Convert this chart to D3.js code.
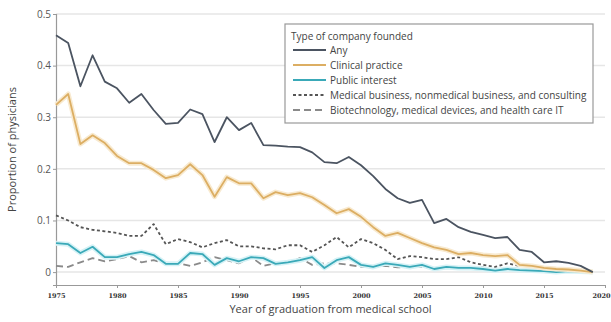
<!DOCTYPE html>
<html>
<head>
<meta charset="utf-8">
<script src="https://cdn.jsdelivr.net/npm/d3@7"></script>
<style>
  body { margin: 0; background: #fff; }
  svg { display: block; }
</style>
</head>
<body>
<div id="chart"></div>
<script>
// data
const years = d3.range(1975, 2020);
const anyFounded = [0.459, 0.444, 0.360, 0.420, 0.369, 0.356, 0.328, 0.345, 0.314, 0.287,
  0.289, 0.315, 0.306, 0.252, 0.300, 0.275, 0.289, 0.246, 0.245, 0.243,
  0.242, 0.232, 0.213, 0.211, 0.223, 0.207, 0.186, 0.161, 0.143, 0.134,
  0.140, 0.095, 0.103, 0.087, 0.078, 0.072, 0.066, 0.068, 0.043, 0.039,
  0.019, 0.021, 0.018, 0.012, 0.000];
const clinical = [0.324, 0.345, 0.248, 0.265, 0.250, 0.225, 0.211, 0.211, 0.198, 0.182,
  0.188, 0.209, 0.188, 0.146, 0.184, 0.172, 0.172, 0.143, 0.155, 0.149,
  0.153, 0.145, 0.130, 0.114, 0.122, 0.107, 0.087, 0.070, 0.076, 0.066,
  0.056, 0.048, 0.043, 0.035, 0.037, 0.033, 0.031, 0.033, 0.014, 0.012,
  0.008, 0.006, 0.005, 0.003, 0.000];
const publicInterest = [0.056, 0.054, 0.037, 0.049, 0.029, 0.029, 0.035, 0.039, 0.033, 0.016,
  0.016, 0.037, 0.035, 0.014, 0.027, 0.021, 0.029, 0.027, 0.016, 0.019,
  0.023, 0.029, 0.008, 0.023, 0.029, 0.014, 0.010, 0.017, 0.014, 0.010,
  0.014, 0.006, 0.010, 0.008, 0.008, 0.006, 0.003, 0.006, 0.004, 0.003,
  0.002, 0.000, 0.002, 0.001, 0.000];
const medBusiness = [0.110, 0.100, 0.087, 0.082, 0.079, 0.076, 0.070, 0.070, 0.093, 0.054,
  0.064, 0.058, 0.048, 0.056, 0.062, 0.050, 0.050, 0.046, 0.044, 0.052,
  0.052, 0.039, 0.052, 0.068, 0.048, 0.064, 0.056, 0.043, 0.025, 0.031,
  0.029, 0.025, 0.025, 0.029, 0.019, 0.014, 0.010, 0.017, 0.012, 0.012,
  0.006, 0.008, 0.004, 0.002, 0.000];
const biotech = [0.012, 0.010, 0.019, 0.027, 0.021, 0.025, 0.031, 0.019, 0.023, 0.017,
  0.017, 0.012, 0.019, 0.029, 0.023, 0.017, 0.029, 0.012, 0.017, 0.019,
  0.027, 0.014, 0.017, 0.017, 0.014, 0.010, 0.010, 0.012, 0.009, 0.010,
  0.010, 0.006, 0.008, 0.008, 0.009, 0.009, 0.002, 0.008, 0.006, 0.005,
  0.004, 0.004, 0.003, 0.002, 0.000];
const seriesNames = ['Any', 'Clinical practice', 'Public interest',
  'Medical business, nonmedical business, and consulting',
  'Biotechnology, medical devices, and health care IT'];
const yTicks = [0, 0.1, 0.2, 0.3, 0.4, 0.5];
const xTicks = [1975, 1980, 1985, 1990, 1995, 2000, 2005, 2010, 2015, 2020];

const width = 611;
const height = 322;
const margin = {top: 14, right: 6, bottom: 37, left: 56};
const fontFamily = `'Open Sans', 'Noto Sans', sans-serif`;
const textColor = '#444';

const styles = [
  {color: '#4b5461', dash: null, glow: null},
  {color: '#dcae63', dash: null, glow: '#f8ead0'},
  {color: '#3aa9b8', dash: null, glow: '#d6f2f6'},
  {color: '#555', dash: '3,2.5', glow: null},
  {color: '#8a8a8a', dash: '7,4', glow: null}
];

const xScale = d3.scaleLinear().domain([1975, 2020]).range([margin.left, width - margin.right]);
const yScale = d3.scaleLinear().domain([-0.025, 0.5]).range([height - margin.bottom, margin.top]);

const svg = d3.select('#chart').append('svg')
  .attr('width', width)
  .attr('height', height);

// grid lines
svg.append('g')
  .selectAll('line')
  .data(yTicks)
  .join('line')
  .attr('x1', margin.left)
  .attr('x2', width - margin.right)
  .attr('y1', d => yScale(d))
  .attr('y2', d => yScale(d))
  .attr('stroke', '#e6e6e6')
  .attr('stroke-width', 1.5);

// y axis
const yAxis = svg.append('g')
  .attr('transform', `translate(${margin.left},0)`)
  .call(d3.axisLeft(yScale).tickValues(yTicks).tickSize(3).tickFormat(d => d === 0 ? '0' : d3.format('.1f')(d)));
yAxis.select('.domain').attr('stroke', '#999').attr('stroke-width', 1.2);
yAxis.selectAll('.tick line').attr('stroke', '#999');
yAxis.selectAll('.tick text')
  .style('font', `10px ${fontFamily}`)
  .attr('fill', '#555')
  .attr('x', -5);

// x axis
const xAxis = svg.append('g')
  .attr('transform', `translate(0,${height - margin.bottom})`)
  .call(d3.axisBottom(xScale).tickValues(xTicks).tickSize(3).tickFormat(d3.format('d')).tickSizeOuter(0));
xAxis.select('.domain').attr('stroke', '#999').attr('stroke-width', 1.2);
xAxis.selectAll('.tick line').attr('stroke', '#999');
xAxis.selectAll('.tick text')
  .style('font', `bold 6.5px 'DejaVu Serif', serif`)
  .attr('fill', '#333')
  .attr('y', 8)
  .attr('dx', d => d === 2020 ? -4 : 0);

// axis titles
svg.append('text')
  .attr('x', (margin.left + width - margin.right) / 2)
  .attr('y', 313)
  .attr('text-anchor', 'middle')
  .style('font', `11px ${fontFamily}`)
  .attr('fill', textColor)
  .text('Year of graduation from medical school');

svg.append('text')
  .attr('transform', `translate(16,${(margin.top + height - margin.bottom) / 2}) rotate(-90)`)
  .attr('text-anchor', 'middle')
  .style('font', `11px ${fontFamily}`)
  .attr('fill', textColor)
  .text('Proportion of physicians');

// lines
const allSeries = [anyFounded, clinical, publicInterest, medBusiness, biotech];
const line = d3.line()
  .x((d, i) => xScale(years[i]))
  .y(d => yScale(d));

// draw from back to front: biotech, business, public, clinical, any
const order = [4, 3, 2, 1, 0];
order.forEach(k => {
  const s = styles[k];
  if (s.glow) {
    svg.append('path')
      .datum(allSeries[k])
      .attr('d', line)
      .attr('fill', 'none')
      .attr('stroke', s.glow)
      .attr('stroke-width', 5)
      .attr('stroke-linejoin', 'round');
  }
  svg.append('path')
    .datum(allSeries[k])
    .attr('d', line)
    .attr('fill', 'none')
    .attr('stroke', s.color)
    .attr('stroke-width', 1.8)
    .attr('stroke-linejoin', 'round')
    .attr('stroke-dasharray', s.dash);
});

// legend
const legend = svg.append('g').attr('transform', 'translate(285,24)');
legend.append('rect')
  .attr('width', 308)
  .attr('height', 99)
  .attr('fill', '#fff')
  .attr('stroke', '#999')
  .attr('stroke-width', 1.2);
legend.append('text')
  .attr('x', 6)
  .attr('y', 16)
  .style('font', `10px ${fontFamily}`)
  .attr('fill', textColor)
  .text('Type of company founded');

const rows = legend.selectAll('.row')
  .data(seriesNames)
  .join('g')
  .attr('class', 'row')
  .attr('transform', (d, i) => `translate(0,${26 + i * 15})`);
rows.append('line')
  .attr('x1', 8)
  .attr('x2', 41)
  .attr('stroke', (d, i) => styles[i].color)
  .attr('stroke-width', 2)
  .attr('stroke-dasharray', (d, i) => styles[i].dash);
rows.append('text')
  .attr('x', 45)
  .attr('y', 4)
  .style('font', `10px ${fontFamily}`)
  .attr('fill', textColor)
  .text(d => d);
</script>
</body>
</html>
